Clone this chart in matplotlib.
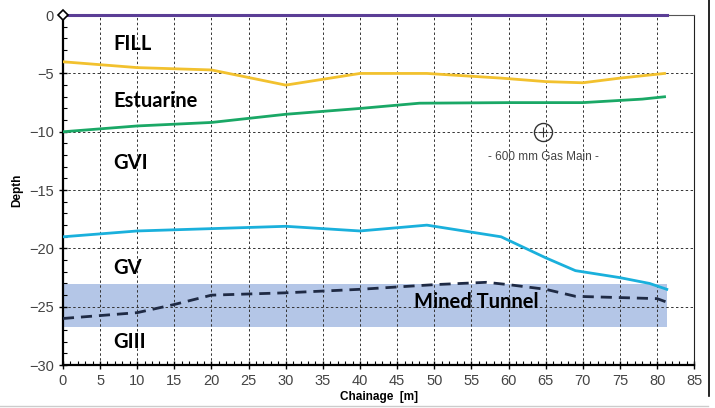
import matplotlib.pyplot as plt
from matplotlib.ticker import MultipleLocator
from matplotlib.lines import Line2D

# Layer boundaries (chainage in m, depth in m)
surface_x = [0, 81.3]
surface_y = [0, 0]

fill_x = [0, 10, 20, 30, 40, 49, 59, 65, 70, 75, 81]
fill_y = [-4.0, -4.5, -4.7, -6.0, -5.0, -5.0, -5.4, -5.7, -5.8, -5.4, -5.0]

estuarine_x = [0, 10, 20, 30, 40, 48, 60, 70, 78, 81]
estuarine_y = [-10.0, -9.5, -9.2, -8.5, -8.0, -7.55, -7.5, -7.5, -7.2, -7.0]

gv_x = [0, 10, 20, 30, 40, 49, 59, 65, 69, 75, 79, 81.3]
gv_y = [-19.0, -18.5, -18.3, -18.1, -18.5, -18.0, -19.0, -20.8, -21.9, -22.5, -23.0, -23.5]

tunnel_x = [0, 10, 15, 20, 30, 40, 50, 57, 60, 65, 69, 80, 81.3]
tunnel_y = [-26.0, -25.5, -24.8, -24.0, -23.8, -23.5, -23.1, -22.9, -23.1, -23.5, -24.1, -24.3, -24.6]

band_x = [0, 81.3]
band_top = -23.05
band_bottom = -26.75

layer_names = ["FILL", "Estuarine", "GVI", "GV", "GIII"]
layer_label_y = [-2.5, -7.4, -12.7, -21.7, -28.0]

gas_main_x = 64.7
gas_main_y = -10.0

fig = plt.figure(figsize=(7.15, 4.08), dpi=100)
ax = fig.add_axes([0.088, 0.105, 0.883, 0.858])

ax.fill_between(band_x, band_bottom, band_top, color="#b4c6e7", lw=0, zorder=1)
ax.grid(True, which="major", color="#333333", linestyle=(0, (2.5, 2.5)), linewidth=0.7, zorder=2)

ax.plot(surface_x, surface_y, color="#5b3e96", lw=2.2, zorder=4, clip_on=False)
ax.plot(fill_x, fill_y, color="#f2c12e", lw=2, zorder=4)
ax.plot(estuarine_x, estuarine_y, color="#1aa866", lw=2, zorder=4)
ax.plot(gv_x, gv_y, color="#1ab0dc", lw=2, zorder=4)
ax.plot(tunnel_x, tunnel_y, color="#1f2a44", lw=2, linestyle=(0, (4, 2.5)), zorder=4)
ax.plot([0], [0], marker="D", ms=5, mfc="white", mec="black", mew=1.2, zorder=6, clip_on=False)

for name, ly in zip(layer_names, layer_label_y):
    ax.text(6.8, ly, name, fontsize=14.5, fontweight="bold", family="Lato", va="center", zorder=5)
ax.text(47.3, -24.6, "Mined Tunnel", fontsize=14.5, fontweight="bold", family="Lato",
        va="center", zorder=5)

# Gas main symbol
ax.plot([gas_main_x], [gas_main_y], marker="o", ms=13, mfc="none", mec="#333333", mew=1, zorder=5)
ax.plot([gas_main_x], [gas_main_y], marker="+", ms=7, color="#333333", mew=0.8, zorder=5)
ax.text(gas_main_x, gas_main_y - 2.2, "- 600 mm Gas Main -", fontsize=8.5, color="#444444",
        family="Liberation Sans", ha="center", va="center", zorder=5)

ax.set_xlim(0, 85)
ax.set_ylim(-30, 0)
ax.xaxis.set_major_locator(MultipleLocator(5))
ax.xaxis.set_minor_locator(MultipleLocator(1))
ax.yaxis.set_major_locator(MultipleLocator(5))
ax.yaxis.set_minor_locator(MultipleLocator(1))
ax.tick_params(which="major", direction="inout", length=6, width=1, labelsize=10.5, labelcolor="#444444")
ax.tick_params(which="minor", direction="in", length=3, width=0.8)
for lab in ax.get_xticklabels() + ax.get_yticklabels():
    lab.set_family("Liberation Sans")

ax.set_xlabel("Chainage  [m]", fontsize=8.5, fontweight="bold", labelpad=2, family="Liberation Sans")
ax.set_ylabel("Depth", fontsize=8.5, fontweight="bold", labelpad=4, family="Liberation Sans")

for side in ["left", "bottom"]:
    ax.spines[side].set_linewidth(1.6)
    ax.spines[side].set_color("black")
ax.spines["right"].set_color("#222222")
ax.spines["top"].set_color("#555555")

# Outer frame line on the right of the picture
fig.add_artist(Line2D([0.991, 0.991], [0.03, 1.0], color="black", lw=1.2))
fig.add_artist(Line2D([0.0, 0.99], [0.005, 0.005], color="#cccccc", lw=1))

plt.savefig("out.png", dpi=100)
